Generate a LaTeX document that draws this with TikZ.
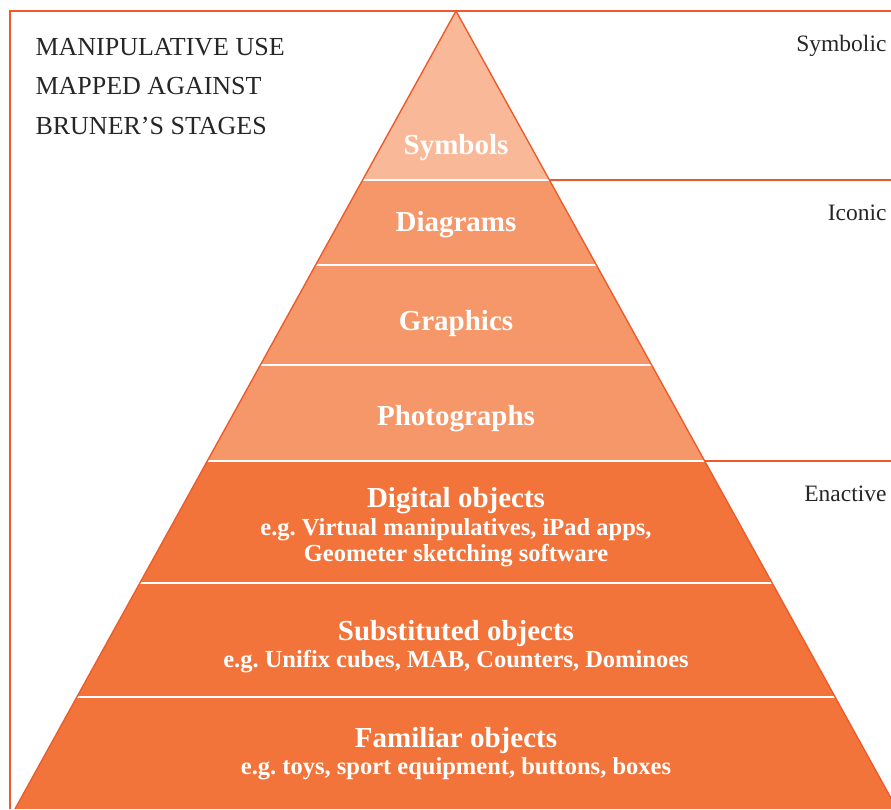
\documentclass[tikz,border=0pt]{standalone}
\usepackage{fontspec}
\setmainfont{Liberation Serif}
\usetikzlibrary{positioning,calc}
\definecolor{edgeorange}{HTML}{EE5B2B}
\definecolor{symbfill}{HTML}{F9B999}
\definecolor{iconfill}{HTML}{F6976A}
\definecolor{enactfill}{HTML}{F2743A}
\tikzset{
  frameline/.style = {draw=edgeorange, line width=1.4pt},
  sepline/.style = {draw=white, line width=2pt},
  stagename/.style = {anchor=east, text=black!85, font=\fontsize{23.5}{26}\selectfont},
  heading/.style = {anchor=west, text=black!85, font=\fontsize{26}{28}\selectfont},
  level/.style = {text=white, font=\bfseries\fontsize{29}{30}\selectfont, inner sep=0pt},
  example/.style = {text=white, font=\bfseries\fontsize{24.5}{26}\selectfont, align=center, inner sep=0pt}
}

\begin{document}
\begin{tikzpicture}[x=1pt,y=-1pt]
  \useasboundingbox (0,0) rectangle (891,809);
  \clip (0,0) rectangle (891,809);
  % corners of the pyramid
  \coordinate (apex) at (456,11);
  \coordinate (baseL) at (15,809);
  \coordinate (baseR) at (897,809);
  \coordinate (rightEdge) at (891,0);
  % bands
  \begin{scope}
    \clip (apex) -- (baseR) -- (baseL) -- cycle;
    \fill[symbfill] (0,0) rectangle (891,180);
    \fill[iconfill] (0,180) rectangle (891,461);
    \fill[enactfill] (0,461) rectangle (891,809);
    \foreach\Y in {180,265,365,461,583,697} {\draw[sepline] (0,\Y) -- (891,\Y);}
  \end{scope}
  % outline
  \draw[frameline] (baseL) -- (apex) -- (baseR);
  % frame and stage borders
  \draw[frameline] (10,809) -- (10,11) -- (891,11);
  \coordinate (iconTop) at ($(apex)!0.2118!(baseR)$);
  \coordinate (enactTop) at ($(apex)!0.5639!(baseR)$);
  \draw[frameline] (iconTop) -- (iconTop -| rightEdge);
  \draw[frameline] (enactTop) -- (enactTop -| rightEdge);
  % title
  \node[heading] (title1) at (32,47) {MANIPULATIVE USE};
  \node[heading] (title2) at (32,86) {MAPPED AGAINST};
  \node[heading] (title3) at (32,126) {BRUNER’S STAGES};
  % stages
  \node[stagename] (symbolic) at (890,46) {Symbolic};
  \node[stagename] (iconic) at (890,213) {Iconic};
  \node[stagename] (enactive) at (890,494) {Enactive};
  % levels
  \node[level] (symbols) at (456,148) {Symbols};
  \node[level] (diagrams) at (456,225) {Diagrams};
  \node[level] (graphics) at (456,324) {Graphics};
  \node[level] (photos) at (456,419) {Photographs};
  \node[level] (digital) at (456,501) {Digital objects};
  \node[example, below=4pt of digital] (digitalEg) {e.g.\ Virtual manipulatives, iPad apps,\\Geometer sketching software};
  \node[level] (substituted) at (456,634) {Substituted objects};
  \node[example, below=3pt of substituted] (substitutedEg) {e.g.\ Unifix cubes, MAB, Counters, Dominoes};
  \node[level] (familiar) at (456,741) {Familiar objects};
  \node[example, below=3pt of familiar] (familiarEg) {e.g.\ toys, sport equipment, buttons, boxes};
\end{tikzpicture}
\end{document}
